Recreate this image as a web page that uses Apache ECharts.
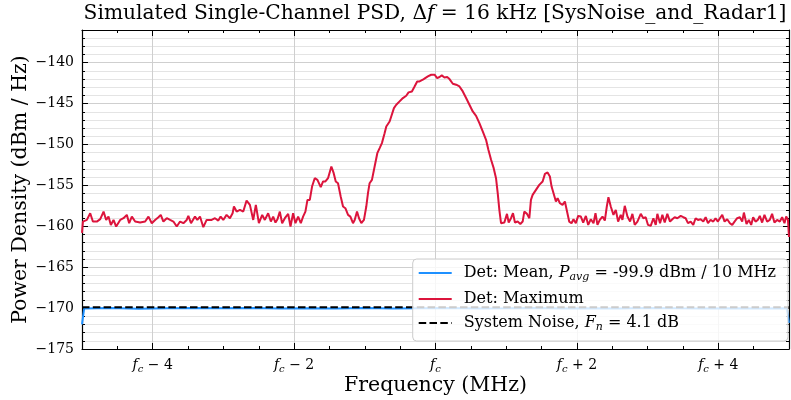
<!DOCTYPE html>
<html><head><meta charset="utf-8">
<script src="https://cdn.jsdelivr.net/npm/echarts@6/dist/echarts.min.js"></script>
<style>html,body{margin:0;padding:0;background:#fff}#c{width:791px;height:400px}</style>
</head><body><div id="c"></div>
<script>
// ---- data ----
const xTickValues = [-4, -2, 0, 2, 4];
const xTickLabels = ['{i|f}{s|c}{n| − 4}', '{i|f}{s|c}{n| − 2}', '{i|f}{s|c}', '{i|f}{s|c}{n| + 2}', '{i|f}{s|c}{n| + 4}'];
const yTickValues = [-175, -170, -165, -160, -155, -150, -145, -140];

const maxFreq = [-5.00,-4.987,-4.931,-4.884,-4.846,-4.790,-4.742,-4.695,-4.658,-4.625,-4.592,-4.554,-4.517,-4.460,-4.413,-4.366,-4.333,-4.295,-4.248,-4.178,-4.107,-4.060,-4.013,-3.966,-3.919,-3.886,-3.849,-3.801,-3.754,-3.707,-3.660,-3.613,-3.566,-3.519,-3.496,-3.458,-3.402,-3.369,-3.331,-3.284,-3.237,-3.166,-3.119,-3.072,-3.039,-3.002,-2.955,-2.908,-2.870,-2.851,-2.813,-2.766,-2.719,-2.672,-2.625,-2.578,-2.541,
-2.498,-2.451,-2.414,-2.367,-2.329,-2.296,-2.263,-2.235,-2.202,-2.169,-2.131,-2.084,-2.051,-2.014,-1.981,-1.943,-1.905,-1.873,-1.840,-1.811,-1.778,-1.746,-1.708,-1.670,-1.623,-1.590,-1.557,-1.520,-1.473,-1.440,-1.411,-1.379,-1.341,-1.308,-1.275,-1.237,-1.204,-1.167,-1.143,-1.110,-1.082,-1.049,-1.012,-0.979,-0.955,-0.932,-0.899,-0.861,-0.823,-0.790,-0.758,-0.720,-0.696,-0.649,-0.626,-0.588,-0.555,-0.508,-0.461,-0.414,-0.381,-0.334,-0.296,-0.259,-0.226,-0.179,-0.146,-0.108,-0.061,
-0.014,0.024,0.057,0.089,0.127,0.165,0.198,0.245,0.292,0.339,0.386,0.433,0.480,0.527,0.574,0.621,0.668,0.715,0.748,0.786,0.823,0.856,0.880,0.903,0.927,0.974,1.011,1.035,1.068,1.096,1.124,1.162,1.200,1.233,1.256,1.294,1.327,1.350,1.374,1.421,1.468,1.515,1.548,1.585,1.618,1.642,1.670,1.703,1.727,1.760,1.797,1.830,1.858,1.891,1.924,1.952,1.985,2.018,2.056,2.089,2.127,2.160,2.197,2.235,2.263,2.291,2.324,2.362,2.395,2.423,2.446,2.479,2.517,
2.550,2.583,2.620,2.644,2.677,2.715,2.752,2.785,2.818,2.856,2.903,2.940,2.973,3.006,3.044,3.082,3.115,3.138,3.176,3.209,3.242,3.279,3.317,3.350,3.383,3.421,3.468,3.505,3.538,3.571,3.609,3.646,3.679,3.712,3.750,3.788,3.821,3.854,3.891,3.929,3.961,3.994,4.032,4.056,4.089,4.126,4.164,4.197,4.230,4.267,4.305,4.338,4.362,4.399,4.432,4.465,4.493,4.526,4.559,4.587,4.620,4.653,4.691,4.728,4.761,4.794,4.832,4.870,4.903,4.936,4.960,4.985,5.00];
const maxDb = [-160.8,-159.42,-159.22,-158.40,-159.42,-159.42,-159.13,-158.20,-159.22,-158.81,-159.83,-159.22,-160.03,-159.22,-159.01,-158.60,-159.62,-158.81,-159.42,-159.54,-159.42,-158.81,-159.62,-159.22,-158.89,-158.60,-159.42,-159.01,-159.22,-159.42,-160.03,-159.42,-159.62,-159.22,-158.73,-159.62,-158.81,-159.22,-158.81,-160.11,-159.22,-159.22,-159.01,-159.30,-158.81,-159.22,-158.60,-159.01,-158.40,-157.58,-158.20,-157.99,-158.20,-156.85,-157.38,-159.22,-157.38,
-159.62,-158.60,-159.22,-158.40,-159.42,-158.81,-159.54,-159.13,-158.20,-159.62,-159.01,-158.48,-160.03,-158.40,-159.62,-158.81,-159.62,-158.81,-158.20,-156.77,-156.77,-155.14,-154.12,-154.32,-155.22,-154.52,-154.52,-154.12,-152.69,-153.50,-154.52,-154.73,-156.36,-157.58,-157.79,-158.60,-158.81,-159.62,-159.22,-158.20,-159.01,-159.62,-159.22,-157.58,-155.95,-154.73,-154.32,-152.69,-151.06,-150.44,-149.83,-148.61,-147.79,-147.18,-146.57,-145.55,-145.14,-144.73,-144.32,-144.04,-143.63,-143.51,-142.90,-142.29,-142.29,-142.08,-141.88,-141.67,-141.47,
-141.47,-141.88,-141.75,-141.55,-141.80,-141.75,-142.00,-142.57,-142.69,-142.90,-143.51,-144.32,-145.14,-145.96,-146.49,-147.38,-148.40,-149.42,-150.65,-151.87,-152.89,-154.12,-155.95,-157.99,-159.62,-159.54,-158.48,-159.54,-159.01,-158.40,-159.54,-159.42,-159.71,-159.42,-158.20,-158.48,-159.01,-156.77,-156.16,-155.54,-154.93,-154.52,-153.59,-153.42,-153.91,-155.14,-155.06,-156.97,-156.56,-157.18,-157.38,-156.97,-156.97,-159.42,-159.62,-159.13,-159.62,-158.73,-158.81,-159.54,-158.73,-159.83,-159.13,-159.62,-158.40,-159.83,-159.22,-158.81,-159.30,-157.58,-156.44,-157.58,-158.60,
-157.99,-159.42,-158.60,-159.22,-157.50,-158.81,-159.42,-158.48,-159.83,-159.42,-158.48,-159.01,-158.89,-159.83,-159.95,-159.01,-159.83,-158.48,-159.62,-158.60,-159.54,-158.48,-159.42,-159.13,-158.89,-159.01,-158.73,-158.89,-159.01,-159.62,-159.42,-159.83,-159.01,-159.22,-159.13,-159.42,-158.89,-159.62,-159.22,-159.42,-159.01,-159.42,-158.89,-158.60,-159.42,-159.13,-159.62,-159.83,-159.42,-159.01,-158.89,-159.42,-158.32,-159.71,-159.22,-159.83,-158.89,-159.42,-159.22,-158.73,-159.54,-158.60,-159.42,-159.22,-158.48,-159.54,-159.22,-159.42,-158.89,-159.62,-158.81,-159.20,-161.30];

const meanFreq = [-5.0,-4.97,-4.6,-4.2,-3.8,-3.4,-3.0,-2.6,-2.2,-1.8,-1.4,-1.0,-0.6,-0.2,0.2,0.6,1.0,1.4,1.8,2.2,2.6,3.0,3.4,3.8,4.2,4.6,4.97,5.0];
const meanDb = [-172.0,-170.05,-170.0,-170.08,-170.02,-170.0,-170.03,-170.0,-170.05,-170.01,-170.04,-170.0,-170.06,-170.02,-170.0,-170.05,-170.03,-170.0,-170.04,-170.02,-170.06,-170.0,-170.03,-170.05,-170.01,-170.04,-170.03,-171.8];

const noiseFreq = [-5.0, 5.0];
const noiseDb = [-169.9, -169.9];

const legendLabels = {
  mean: 'Det: Mean, {i|P}{s|avg}{n| = -99.9 dBm / 10 MHz}',
  max: 'Det: Maximum',
  noise: 'System Noise, {i|F}{s|n}{n| = 4.1 dB}'
};

// ---- chart ----
const FONT = 'DejaVu Serif';
const zip = (a, b) => a.map((v, i) => [v, b[i]]);
const richTick = {
  n: {fontFamily: FONT, fontSize: 14, color: '#000', lineHeight: 18, verticalAlign: 'middle'},
  i: {fontFamily: FONT, fontSize: 14, fontStyle: 'italic', color: '#000', lineHeight: 18, verticalAlign: 'middle'},
  s: {fontFamily: FONT, fontSize: 10, fontStyle: 'italic', color: '#000', lineHeight: 10, verticalAlign: 'bottom'}
};
const richLeg = {
  n: {fontFamily: FONT, fontSize: 16, color: '#000', lineHeight: 20, verticalAlign: 'middle'},
  i: {fontFamily: FONT, fontSize: 16, fontStyle: 'italic', color: '#000', lineHeight: 20, verticalAlign: 'middle'},
  s: {fontFamily: FONT, fontSize: 11, fontStyle: 'italic', color: '#000', lineHeight: 11, verticalAlign: 'bottom'}
};
const axLine = {show: true, onZero: false, lineStyle: {color: '#000', width: 1.2}};
const noLine = {show: false, onZero: false};
const grid = {left: 82, right: 2, top: 30, bottom: 51, containLabel: false, outerBoundsMode: 'none'};

function majorX(pos, labels) {
  return {
    type: 'value', min: -5, max: 5, position: pos, gridIndex: 0,
    axisLine: axLine,
    axisTick: {show: true, inside: true, length: 6, customValues: xTickValues, lineStyle: {color: '#000', width: 1}},
    axisLabel: labels ? {
      show: true, customValues: xTickValues, margin: 7,
      formatter: v => xTickLabels[xTickValues.indexOf(Math.round(v))] || '',
      rich: richTick, fontFamily: FONT, fontSize: 14, color: '#000'
    } : {show: false},
    splitLine: labels ? {show: true, lineStyle: {color: '#cfcfcf', width: 1}} : {show: false},
    name: labels ? 'Frequency (MHz)' : '', nameLocation: 'middle', nameGap: 26, nameMoveOverlap: false,
    nameTextStyle: {fontFamily: FONT, fontSize: 20.5, color: '#000'}
  };
}
function minorX(pos) {
  return {
    type: 'value', min: -5, max: 5, interval: 0.5, position: pos, gridIndex: 0,
    axisLine: noLine,
    axisTick: {show: true, inside: true, length: 3, lineStyle: {color: '#000', width: 1}},
    axisLabel: {show: false}, splitLine: {show: false}
  };
}
function majorY(pos, labels) {
  return {
    type: 'value', min: -175, max: -136, position: pos, gridIndex: 0,
    axisLine: axLine,
    axisTick: {show: true, inside: true, length: 6, customValues: yTickValues, lineStyle: {color: '#000', width: 1}},
    axisLabel: labels ? {
      show: true, customValues: yTickValues, margin: 8,
      formatter: v => String(v).replace('-', '\u2212'),
      fontFamily: FONT, fontSize: 14, color: '#000'
    } : {show: false},
    splitLine: labels ? {show: true, lineStyle: {color: '#cfcfcf', width: 1}} : {show: false},
    name: labels ? 'Power Density (dBm / Hz)' : '', nameLocation: 'middle', nameGap: 51, nameMoveOverlap: false,
    nameTextStyle: {fontFamily: FONT, fontSize: 20.5, color: '#000'}
  };
}
function minorY(pos, split) {
  return {
    type: 'value', min: -175, max: -136, interval: 1, position: pos, gridIndex: 0,
    axisLine: noLine,
    axisTick: {show: true, inside: true, length: 3, lineStyle: {color: '#000', width: 1}},
    axisLabel: {show: false},
    splitLine: split ? {show: true, lineStyle: {color: '#e4e4e4', width: 1}} : {show: false}
  };
}

const option = {
  animation: false,
  backgroundColor: '#fff',
  title: {
    text: 'Simulated Single-Channel PSD, Δ{i|f}{n| = 16 kHz [SysNoise_and_Radar1]}',
    left: 435, top: 4, textAlign: 'center', padding: 0,
    textStyle: {
      fontFamily: FONT, fontSize: 20.2, fontWeight: 'normal', color: '#000',
      rich: {
        n: {fontFamily: FONT, fontSize: 20.2, color: '#000'},
        i: {fontFamily: FONT, fontSize: 20.2, fontStyle: 'italic', color: '#000'}
      }
    }
  },
  grid: grid,
  xAxis: [majorX('bottom', true), minorX('bottom'), majorX('top', false), minorX('top')],
  yAxis: [minorY('left', true), majorY('left', true), majorY('right', false), minorY('right', false)],
  legend: {
    orient: 'vertical', right: 3, top: 259, z: 10,
    padding: [6, 12, 8, 5], itemGap: 8, itemWidth: 33, itemHeight: 20,
    backgroundColor: 'rgba(255,255,255,0.8)', borderColor: '#cccccc', borderWidth: 1, borderRadius: 4,
    data: ['mean', 'max', 'noise'],
    itemStyle: {color: 'rgba(0,0,0,0)', borderColor: 'rgba(0,0,0,0)', borderWidth: 0, opacity: 0},
    formatter: name => legendLabels[name],
    textStyle: {fontFamily: FONT, fontSize: 16, color: '#000', padding: [0, 0, 0, 7], rich: richLeg}
  },
  series: [
    {name: 'mean', type: 'line', xAxisIndex: 0, yAxisIndex: 1, data: zip(meanFreq, meanDb),
     symbol: 'none', lineStyle: {color: '#1e90ff', width: 2}, itemStyle: {color: '#1e90ff'}, z: 2},
    {name: 'max', type: 'line', xAxisIndex: 0, yAxisIndex: 1, data: zip(maxFreq, maxDb),
     symbol: 'none', lineStyle: {color: '#dc143c', width: 2}, itemStyle: {color: '#dc143c'}, z: 2},
    {name: 'noise', type: 'line', xAxisIndex: 0, yAxisIndex: 1, data: zip(noiseFreq, noiseDb),
     symbol: 'none', lineStyle: {color: '#000', width: 2, type: [7.5, 3.3]}, itemStyle: {color: '#000'}, z: 2}
  ]
};
const chart = echarts.init(document.getElementById('c'), null, {renderer: 'canvas'});
chart.setOption(option);
</script>
</body></html>
